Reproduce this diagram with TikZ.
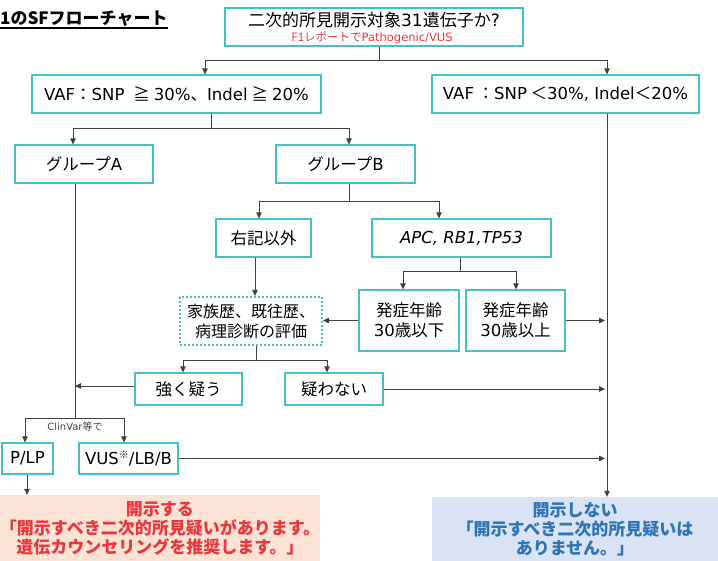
\documentclass[tikz,border=0pt]{standalone}
\usepackage{fontspec}
\setmainfont{Noto Sans CJK JP}
\newfontfamily\dv{DejaVu Sans}
\usetikzlibrary{arrows.meta}
\definecolor{boxc}{HTML}{45C1C1}
\definecolor{linec}{HTML}{404040}
\definecolor{redt}{HTML}{E8383D}
\definecolor{pinkbg}{HTML}{FAE2D5}
\definecolor{bluebg}{HTML}{DAE3F3}
\definecolor{bluet}{HTML}{2E75B6}
\tikzset{
  bx/.style={draw=boxc, line width=1.2pt, inner sep=0pt, align=center, font=\fontsize{16.5}{20}\selectfont},
  dotbox/.style={draw=boxc, line width=2pt, dash pattern=on 2pt off 2pt, inner sep=0pt, align=center, font=\fontsize{16}{20}\selectfont},
  ln/.style={draw=linec, line width=0.8pt},
  arr/.style={ln, -{Triangle[length=6pt,width=5.5pt]}},
  res/.style={inner sep=0pt, align=center, font=\bfseries\fontsize{17}{19}\selectfont}
}
\begin{document}
\begin{tikzpicture}[x=1pt,y=-1pt]
\useasboundingbox (0,0) rectangle (718,561);
% title
\node[anchor=west, inner sep=0pt, font=\bfseries\fontsize{17}{19}\selectfont] (title) at (0,19) {1のSFフローチャート};
\draw[line width=1.5pt] ([yshift=-1pt]title.south west) -- ([yshift=-1pt]title.south east);
% boxes
\node[bx, minimum width=298pt, minimum height=38pt] (top) at (374,27) {};
\node[font=\fontsize{17}{19}\selectfont, inner sep=0pt] (toptxt) at (374,20) {二次的所見開示対象{\dv 31}遺伝子か{\dv ?}};
\node[font=\fontsize{11.5}{12}\selectfont, text=redt, inner sep=0pt] (topred) at (372,37.5) {F1レポートで{\dv Pathogenic/VUS}};
\node[bx, minimum width=289pt, minimum height=38pt] (vafl) at (176.5,94) {{\dv VAF}：{\dv SNP}\hspace{9pt}≧\hspace{4pt}{\dv 30\%}、{\dv Indel}\hspace{4pt}≧\hspace{4pt}{\dv 20\%}};
\node[bx, minimum width=267pt, minimum height=38pt] (vafr) at (565.5,94) {{\dv VAF} ：{\dv SNP} ＜{\dv 30\%, Indel}＜{\dv 20\%}};
\node[bx, minimum width=138pt, minimum height=38pt] (ga) at (84,164) {グループ{\dv A}};
\node[bx, minimum width=139pt, minimum height=38pt] (gb) at (345.5,164) {グループ{\dv B}};
\node[bx, minimum width=95pt, minimum height=38pt] (oth) at (263.5,238) {右記以外};
\node[bx, minimum width=179pt, minimum height=38pt] (apc) at (461.5,238) {\dv\itshape APC, RB1,TP53};
\node[bx, minimum width=100pt, minimum height=61pt] (low) at (409,320.5) {発症年齢\\{\dv 30}歳以下};
\node[bx, minimum width=99pt, minimum height=61pt] (high) at (515.5,320.5) {発症年齢\\{\dv 30}歳以上};
\node[dotbox, minimum width=142pt, minimum height=48pt] (fam) at (251,321) {家族歴、既往歴、\\病理診断の評価};
\node[bx, minimum width=107pt, minimum height=32pt] (strong) at (188.5,389) {強く疑う};
\node[bx, minimum width=98pt, minimum height=32pt] (notq) at (334,389) {疑わない};
\node[bx, minimum width=51pt, minimum height=31pt] (plp) at (27.5,458.5) {\dv P/LP};
\node[bx, minimum width=99pt, minimum height=31pt] (vus) at (128.5,458.5) {{\dv VUS}\raisebox{0.6ex}{\fontsize{10}{10}\selectfont ※}{\dv /LB/B}};
\node[res, fill=pinkbg, text=redt, minimum width=320pt, minimum height=66pt] (pink) at (160,528) {開示する\\「開示すべき二次的所見疑いがあります。\\遺伝カウンセリングを推奨します。」};
\node[res, fill=bluebg, text=bluet, minimum width=286pt, minimum height=64pt] (blue) at (575,529) {開示しない\\「開示すべき二次的所見疑いは\\ありません。」};
% connectors
\coordinate (j1) at (379,60);
\draw[ln] (top.south -| j1) -- (j1);
\draw[arr] (j1) -| ([xshift=28.5pt]vafl.north);
\draw[arr] (j1) -| ([xshift=41.5pt]vafr.north);
\coordinate (j2) at (211,128);
\draw[ln] (vafl.south -| j2) -- (j2);
\draw[arr] (j2) -| ([xshift=-11pt]ga.north);
\draw[arr] (j2) -| ([xshift=3.5pt]gb.north);
\coordinate (j3) at (349,201);
\draw[ln] (gb.south -| j3) -- (j3);
\draw[arr] (j3) -| ([xshift=-4.5pt]oth.north);
\draw[arr] (j3) -| ([xshift=-22.5pt]apc.north);
\coordinate (j4) at (460,271);
\draw[ln] (apc.south -| j4) -- (j4);
\draw[arr] (j4) -| ([xshift=-6pt]low.north);
\draw[arr] (j4) -| ([xshift=0.5pt]high.north);
\draw[arr] ([xshift=-8.5pt]oth.south) -- ([xshift=-8.5pt]oth.south |- fam.north);
\draw[arr] (low.west) -- (low.west -| fam.east);
% right vertical line
\coordinate (rv) at (607,300);
\draw[arr] ([xshift=41.5pt]vafr.south) -- ([xshift=32pt]blue.north);
\draw[arr] (high.east) -- ([xshift=-2pt]rv |- high.east);
\coordinate (j5) at (256,360);
\draw[ln] ([xshift=5pt]fam.south) -- (j5);
\draw[arr] (j5) -| ([xshift=-5.5pt]strong.north);
\draw[arr] (j5) -| ([xshift=-7pt]notq.north);
\coordinate (gl) at (75,418);
\draw[ln] ([xshift=-9pt]ga.south) -- (gl);
\draw[arr] ([yshift=3pt]strong.west) -- ([yshift=3pt]strong.west -| gl);
\draw[arr] (notq.east) -- ([xshift=-2pt]rv |- notq.east);
\draw[arr] (gl) -| ([xshift=-2.5pt]plp.north);
\draw[arr] (gl) -| ([xshift=-4.5pt]vus.north);
\node[font=\fontsize{10}{11}\selectfont, text=linec, inner sep=0pt] (cv) at (75,427) {{\dv ClinVar}等で};
\draw[arr] (vus.east) -- ([xshift=-2pt]rv |- vus.east);
\draw[arr] ([xshift=-0.5pt]plp.south) -- ([xshift=-0.5pt]plp.south |- pink.north);
\end{tikzpicture}
\end{document}
